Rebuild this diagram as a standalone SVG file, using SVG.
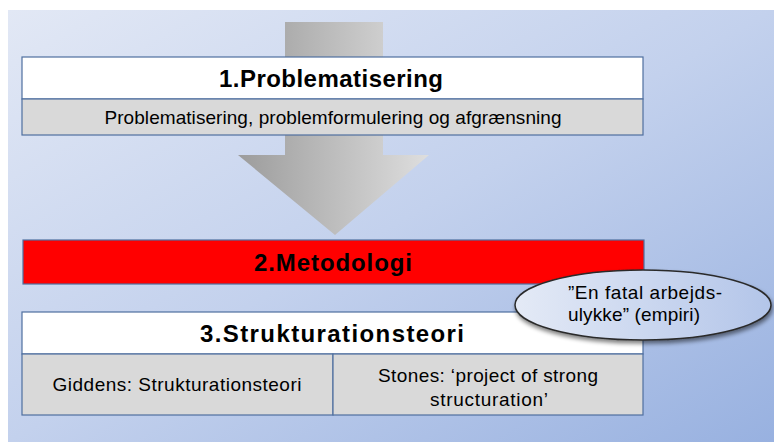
<svg xmlns="http://www.w3.org/2000/svg" width="774" height="442" viewBox="0 0 774 442">
<defs>
<linearGradient id="bg" x1="0" y1="0" x2="1" y2="1">
<stop offset="0" stop-color="#e2e8f5"/>
<stop offset="0.5" stop-color="#c3d1ed"/>
<stop offset="1" stop-color="#98b1e0"/>
</linearGradient>
<linearGradient id="arrowG" x1="0" y1="0" x2="1" y2="0">
<stop offset="0" stop-color="#9c9c9c"/>
<stop offset="1" stop-color="#dedede"/>
</linearGradient>
<linearGradient id="ellG" x1="0" y1="0" x2="1" y2="0">
<stop offset="0" stop-color="#e4eaf6"/>
<stop offset="1" stop-color="#b3c5e9"/>
</linearGradient>
<filter id="sh" x="-20%" y="-20%" width="140%" height="160%">
<feGaussianBlur in="SourceAlpha" stdDeviation="2"/>
<feOffset dx="1" dy="3" result="b"/>
<feComponentTransfer><feFuncA type="linear" slope="0.5"/></feComponentTransfer>
<feMerge><feMergeNode/><feMergeNode in="SourceGraphic"/></feMerge>
</filter>
</defs>
<style>
.box{stroke:#4f6f9f;stroke-width:1.2}
.t{font-family:"Liberation Sans",Arial,sans-serif;fill:#000;text-anchor:middle}
.title{font-size:24px;font-weight:bold}
.sub{font-size:19px}
</style>
<rect x="0" y="0" width="774" height="442" fill="#ffffff"/>
<rect x="8" y="10" width="766" height="432" fill="url(#bg)"/>
<g id="arrow">
<path d="M285,22 H383 V155 H429 L335,235 L238,155 H285 Z" fill="url(#arrowG)"/>
</g>
<g id="node1">
<rect class="box" x="22" y="57" width="621" height="42" fill="#ffffff"/>
<rect class="box" x="22" y="99" width="621" height="36" fill="#d9d9d9"/>
<text class="t title" x="331" y="87" textLength="224">1.Problematisering</text>
<text class="t sub" x="333" y="124" textLength="457">Problematisering, problemformulering og afgrænsning</text>
</g>
<g id="node2">
<rect class="box" x="23" y="240" width="621" height="44" fill="#ff0000"/>
<text class="t title" x="333" y="271" textLength="158">2.Metodologi</text>
</g>
<g id="node3">
<rect class="box" x="22" y="312" width="621" height="42" fill="#ffffff"/>
<rect class="box" x="22" y="354" width="311" height="61" fill="#d9d9d9"/>
<rect class="box" x="333" y="354" width="310" height="61" fill="#d9d9d9"/>
<text class="t title" x="332" y="342" textLength="264">3.Strukturationsteori</text>
<text class="t sub" x="177" y="391" textLength="249">Giddens: Strukturationsteori</text>
<text class="t sub" x="488" y="382" textLength="220">Stones: ‘project of strong</text>
<text class="t sub" x="489" y="406" textLength="118">structuration’</text>
</g>
<g id="ellipse">
<ellipse cx="643" cy="305" rx="128" ry="35" fill="url(#ellG)" stroke="#2b2b2b" stroke-width="1.5" filter="url(#sh)"/>
<text class="t sub" x="568" y="299" style="text-anchor:start" textLength="154">”En fatal arbejds-</text>
<text class="t sub" x="568" y="321" style="text-anchor:start" textLength="132">ulykke” (empiri)</text>
</g>
<g id="connectors"></g>
</svg>
